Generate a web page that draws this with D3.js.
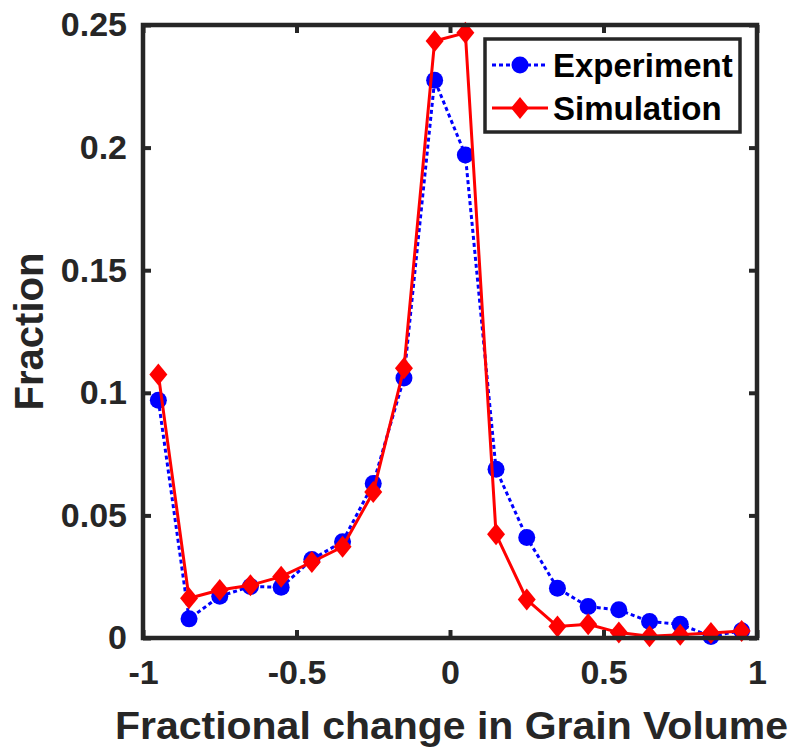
<!DOCTYPE html>
<html><head><meta charset="utf-8">
<script src="https://cdn.jsdelivr.net/npm/d3@7"></script>
<style>html,body{margin:0;padding:0;background:#fff;overflow:hidden}</style>
</head><body>
<script>
const xValues = [-0.95,-0.85,-0.75,-0.65,-0.55,-0.45,-0.35,-0.25,-0.15,-0.05,0.05,0.15,0.25,0.35,0.45,0.55,0.65,0.75,0.85,0.95];
const experiment = [0.097,0.0078,0.017,0.021,0.0207,0.032,0.0393,0.063,0.106,0.2275,0.197,0.0688,0.041,0.0203,0.0128,0.0115,0.0067,0.0056,0.0006,0.003];
const simulation = [0.1075,0.0162,0.0196,0.0215,0.025,0.031,0.0372,0.0595,0.11,0.2435,0.2468,0.0423,0.0157,0.0047,0.0056,0.0022,0.0007,0.0013,0.002,0.0029];
const xTicks = [-1,-0.5,0,0.5,1];
const yTicks = [0,0.05,0.1,0.15,0.2,0.25];
const seriesNames = ["Experiment","Simulation"];

const W=791,H=747;
const L=143,R=757,T=25,B=638;
const axisColor="#262626";
const svg=d3.select("body").append("svg").attr("width",W).attr("height",H);
const x=d3.scaleLinear().domain([-1,1]).range([L,R]);
const y=d3.scaleLinear().domain([0,0.25]).range([B,T]);
const font="'Liberation Sans', Arial, Helvetica, sans-serif";

// lines
const line=d3.line().x((d,i)=>x(xValues[i])).y(d=>y(d));
svg.append("path").datum(experiment).attr("d",line).attr("fill","none")
  .attr("stroke","#0000ff").attr("stroke-width",3).attr("stroke-dasharray","4,3");
svg.selectAll("circle.exp").data(experiment).enter().append("circle").attr("class","exp")
  .attr("cx",(d,i)=>x(xValues[i])).attr("cy",d=>y(d)).attr("r",8.5).attr("fill","#0000ff");
svg.append("path").datum(simulation).attr("d",line).attr("fill","none")
  .attr("stroke","#ff0000").attr("stroke-width",3);
const diamond=(cx,cy)=>`M${cx},${cy-11}L${cx+9},${cy}L${cx},${cy+11}L${cx-9},${cy}Z`;
svg.selectAll("path.sim").data(simulation).enter().append("path").attr("class","sim")
  .attr("d",(d,i)=>diamond(x(xValues[i]),y(d))).attr("fill","#ff0000");

// axes box
const g=svg.append("g");
g.append("rect").attr("x",L).attr("y",T).attr("width",R-L).attr("height",B-T)
  .attr("fill","none").attr("stroke",axisColor).attr("stroke-width",4.5);
const tl=8;
const fmt=d=>String(d);
const axB=d3.axisBottom(x).tickValues(xTicks).tickSize(-tl).tickFormat(fmt).tickPadding(22);
const axT=d3.axisTop(x).tickValues(xTicks).tickSize(-tl).tickFormat("");
const axLf=d3.axisLeft(y).tickValues(yTicks).tickSize(-tl).tickFormat(fmt).tickPadding(16);
const axRt=d3.axisRight(y).tickValues(yTicks).tickSize(-tl).tickFormat("");
function style(sel){
  sel.select(".domain").remove();
  sel.selectAll(".tick line").attr("stroke",axisColor).attr("stroke-width",4);
  sel.selectAll(".tick text").attr("fill",axisColor).style("font-family",font)
    .style("font-weight","bold").style("font-size","34px");
}
g.append("g").attr("transform",`translate(0,${B})`).call(axB).call(style);
g.append("g").attr("transform",`translate(0,${T})`).call(axT).call(style);
g.append("g").attr("transform",`translate(${L},0)`).call(axLf).call(style);
g.append("g").attr("transform",`translate(${R},0)`).call(axRt).call(style);

// axis labels
svg.append("text").attr("x",451.5).attr("y",739).attr("text-anchor","middle")
  .attr("textLength",673).attr("lengthAdjust","spacingAndGlyphs")
  .style("font-family",font).style("font-weight","bold").style("font-size","38px").attr("fill",axisColor)
  .text("Fractional change in Grain Volume");
svg.append("text").attr("transform",`translate(43,${(T+B)/2}) rotate(-90)`).attr("text-anchor","middle")
  .attr("textLength",158).attr("lengthAdjust","spacingAndGlyphs")
  .style("font-family",font).style("font-weight","bold").style("font-size","40px").attr("fill",axisColor)
  .text("Fraction");

// legend
const lg=svg.append("g");
lg.append("rect").attr("x",485).attr("y",39).attr("width",255).attr("height",93)
  .attr("fill","#fff").attr("stroke",axisColor).attr("stroke-width",3.5);
const rows=[65,108];
lg.append("line").attr("x1",492).attr("x2",548).attr("y1",rows[0]).attr("y2",rows[0])
  .attr("stroke","#0000ff").attr("stroke-width",3).attr("stroke-dasharray","4,3");
lg.append("circle").attr("cx",520).attr("cy",rows[0]).attr("r",8.5).attr("fill","#0000ff");
lg.append("line").attr("x1",492).attr("x2",548).attr("y1",rows[1]).attr("y2",rows[1])
  .attr("stroke","#ff0000").attr("stroke-width",3);
lg.append("path").attr("d",diamond(520,rows[1])).attr("fill","#ff0000");
lg.selectAll("text").data(seriesNames).enter().append("text")
  .attr("x",553).attr("y",(d,i)=>rows[i]).attr("dy","0.36em")
  .style("font-family",font).style("font-weight","bold").style("font-size","33px").attr("fill","#000")
  .text(d=>d);
</script>
</body></html>
